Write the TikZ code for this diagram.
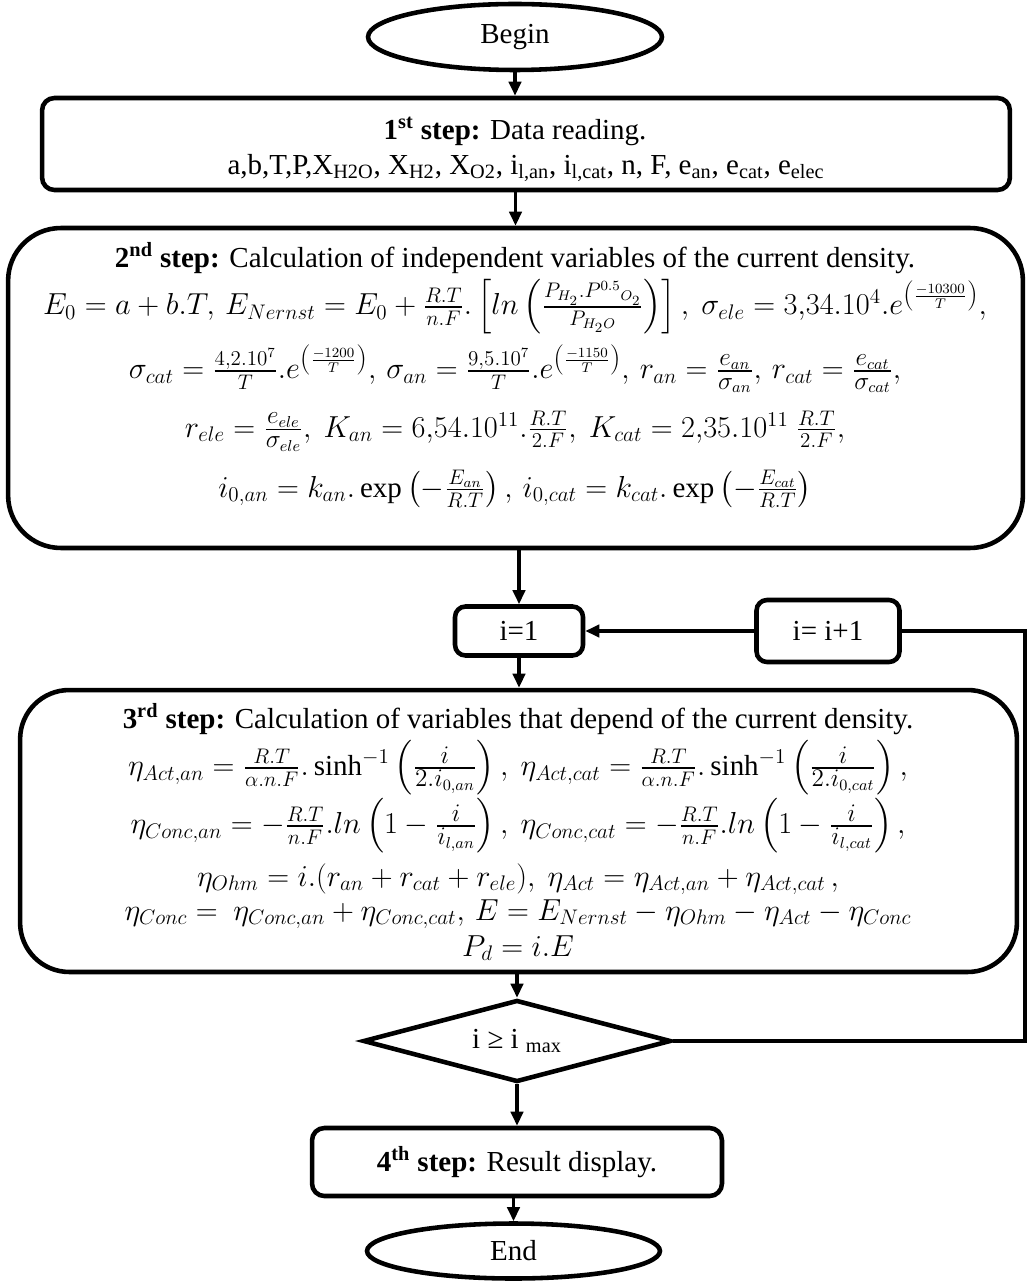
\documentclass[tikz,border=0pt]{standalone}
\usepackage{amsmath}
\usepackage{fontspec}
\setmainfont{Liberation Serif}
\newcommand{\midfrac}[2]{\frac{\mbox{\fontsize{13.5}{15}\selectfont$#1$}}{\mbox{\fontsize{13.5}{15}\selectfont$#2$}}}
\usetikzlibrary{positioning, arrows.meta, shapes.geometric}

\begin{document}
\begin{tikzpicture}[x=0.02cm, y=-0.02cm,
  font=\fontsize{16.5}{19}\selectfont,
  stepbox/.style={draw, line width=2.6pt, rounded corners=#1, inner sep=0pt},
  stepbox/.default=7pt,
  terminal/.style={draw, ellipse, line width=2.6pt, inner sep=0pt},
  flow/.style={-{Triangle[length=8pt,width=7pt]}, line width=2.2pt},
  loopline/.style={line width=2.2pt},
  line/.style={inner sep=0pt}]
\useasboundingbox (0,0) rectangle (1030,1283);
% Begin
\node[terminal, minimum width=5.88cm, minimum height=1.32cm] (begin) at (515,37) {Begin};
% Step 1
\node[stepbox, minimum width=19.36cm, minimum height=1.84cm] (step1) at (526,144) {};
\node[line] (s1a) at (515,131) {\textbf{1\textsuperscript{st} step:} Data reading.};
\node[line] (s1b) at (526,168) {a,b,T,P,X\textsubscript{H2O}, X\textsubscript{H2}, X\textsubscript{O2}, i\textsubscript{l,an}, i\textsubscript{l,cat}, n, F, e\textsubscript{an}, e\textsubscript{cat}, e\textsubscript{elec}};
% Step 2
\node[stepbox=30pt, minimum width=20.3cm, minimum height=6.4cm] (step2) at (515.5,388) {};
\node[line] (s2a) at (515,258) {\textbf{2\textsuperscript{nd} step:} Calculation of independent variables of the current density.};
\node[line] (s2b) at (515,307) {$E_0 = a + b.T,\, E_{Nernst} = E_0 + \frac{R.T}{n.F}.\left[ln\left(\frac{P_{H_2}.P^{0.5}{}_{O_2}}{P_{H_2O}}\right)\right],\ \sigma_{ele} = 3{,}34.10^4.e^{\left(\frac{-10300}{T}\right)},$};
\node[line] (s2c) at (515,369) {$\sigma_{cat} = \frac{4{,}2.10^7}{T}.e^{\left(\frac{-1200}{T}\right)},\, \sigma_{an} = \frac{9{,}5.10^7}{T}.e^{\left(\frac{-1150}{T}\right)},\, r_{an} = \midfrac{e_{an}}{\sigma_{an}},\, r_{cat} = \midfrac{e_{cat}}{\sigma_{cat}},$};
\node[line] (s2d) at (515,431) {$r_{ele} = \midfrac{e_{ele}}{\sigma_{ele}},\ K_{an} = 6{,}54.10^{11}.\frac{R.T}{2.F},\ K_{cat} = 2{,}35.10^{11}\ \frac{R.T}{2.F},$};
\node[line] (s2e) at (515,489) {$i_{0,an} = k_{an}.\exp\left(-\frac{E_{an}}{R.T}\right),\, i_{0,cat} = k_{cat}.\exp\left(-\frac{E_{cat}}{R.T}\right)$};
% Loop counters
\node[stepbox=6pt, minimum width=2.56cm, minimum height=0.98cm] (init) at (519,631) {i=1};
\node[stepbox=6pt, minimum width=2.86cm, minimum height=1.24cm] (incr) at (828,631) {i= i+1};
% Step 3
\node[stepbox=28pt, minimum width=19.94cm, minimum height=5.64cm] (step3) at (518.5,831) {};
\node[line] (s3a) at (518,719) {\textbf{3\textsuperscript{rd} step:} Calculation of variables that depend of the current density.};
\node[line] (s3b) at (518,768) {$\eta_{Act,an} = \frac{R.T}{\alpha.n.F}.\sinh^{-1}\left(\midfrac{i}{2.i_{0,an}}\right),\ \eta_{Act,cat} = \frac{R.T}{\alpha.n.F}.\sinh^{-1}\left(\midfrac{i}{2.i_{0,cat}}\right),$};
\node[line] (s3c) at (518,826) {$\eta_{Conc,an} = -\frac{R.T}{n.F}.ln\left(1-\midfrac{i}{i_{l,an}}\right),\ \eta_{Conc,cat} = -\frac{R.T}{n.F}.ln\left(1-\midfrac{i}{i_{l,cat}}\right),$};
\node[line] (s3d) at (518,879) {$\eta_{Ohm} = i.(r_{an}+r_{cat}+r_{ele}),\ \eta_{Act} = \eta_{Act,an}+\eta_{Act,cat}\,,$};
\node[line] (s3e) at (518,914) {$\eta_{Conc} =\ \eta_{Conc,an}+\eta_{Conc,cat},\, E = E_{Nernst}-\eta_{Ohm}-\eta_{Act}-\eta_{Conc}$};
\node[line] (s3f) at (518,948) {$P_d = i.E$};
% Test
\node[draw, diamond, aspect=3.7, line width=2.6pt, inner sep=0pt, minimum width=6.16cm, minimum height=1.64cm] (test) at (517,1041)
  {i ≥ i \textsubscript{max}};
% Step 4
\node[stepbox=7pt, minimum width=8.2cm, minimum height=1.36cm] (step4) at (517,1162)
  {\textbf{4\textsuperscript{th} step:} Result display.};
% End
\node[terminal, minimum width=5.86cm, minimum height=1.1cm] (end) at (513.5,1251) {End};
% Connectors
\draw[flow] (begin.south) -- (begin.south |- step1.north);
\draw[flow] (step1.south -| step2.north) -- (step2.north);
\draw[flow] (step2.south -| init.north) -- (init.north);
\draw[flow] (init.south) -- (init.south |- step3.north);
\draw[flow] (step3.south -| test.north) -- (test.north);
\draw[flow] (test.south) -- (test.south |- step4.north);
\draw[flow] (step4.south -| end.north) -- (end.north);
\draw[flow] (incr.west) -- (init.east);
\coordinate (back) at (1025,1041);
\draw[loopline] (test.east) -- (back) |- (incr.east);
\end{tikzpicture}
\end{document}
